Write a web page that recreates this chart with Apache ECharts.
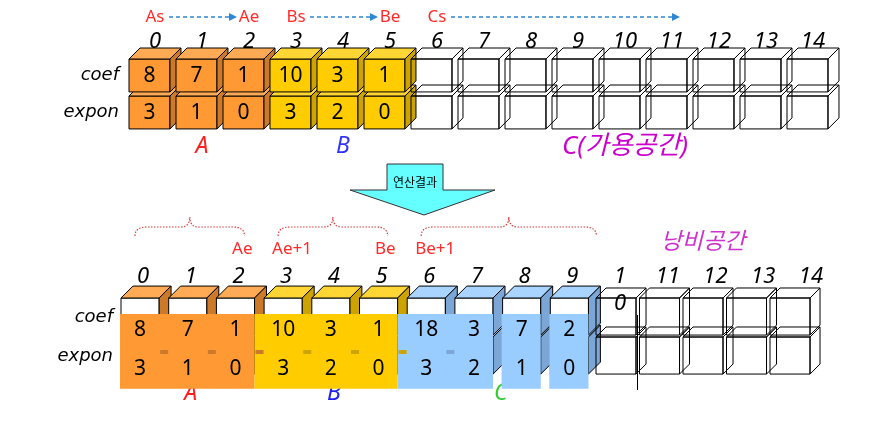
<!DOCTYPE html>
<html>
<head>
<meta charset="utf-8">
<script src="https://cdn.jsdelivr.net/npm/echarts@6/dist/echarts.min.js"></script>
<style>
html, body { margin: 0; padding: 0; background: #fff; }
#main { width: 872px; height: 432px; }
</style>
</head>
<body>
<div id="main"></div>
<script>
// ---- data ----
var indexLabels = ['0','1','2','3','4','5','6','7','8','9','10','11','12','13','14'];
var resIndexLabels = ['0','1','2','3','4','5','6','7','8','9','1\n0','11','12','13','14'];
var rowNames = ['coef', 'expon'];

var topCoef  = [8, 7, 1, 10, 3, 1];
var topExpon = [3, 1, 0, 3, 2, 0];
var topGroup = ['A','A','A','B','B','B'];

var resCoef  = [8, 7, 1, 10, 3, 1, 18, 3, 7, 2];
var resExpon = [3, 1, 0, 3, 2, 0, 3, 2, 1, 0];
var resGroup = ['A','A','A','B','B','B','C','C','C','C'];

var wasteCells = [10, 11, 12, 13, 14];

var pointerNames = ['As', 'Ae', 'Bs', 'Be', 'Cs'];
var pointerCells = [0, 2, 3, 5, 6];
var pointerArrows = [[0, 2], [3, 5], [6, 11]];

var topGroupNames = ['A', 'B', 'C(가용공간)'];
var topGroupSpans = [[0, 2], [3, 5], [6, 14]];
var resGroupNames = ['A', 'B', 'C'];
var resGroupSpans = [[0, 2], [3, 5], [6, 9]];

var braceSpans = [[0, 2], [3, 5], [6, 9]];
var braceNames = ['Ae', 'Ae+1', 'Be', 'Be+1'];
var braceCells = [2, 3, 5, 6];
var braceSides = ['right', 'left', 'right', 'left'];

var overlayBoxes = [[0, 2], [3, 5], [6, 7], [8, 8], [9, 9]];
var wasteName = '낭비공간';
var arrowText = '연산결과';

// ---- styles ----
var NONE = 'rgba(0,0,0,0)';
var FACE = {
  A: { front: '#FF9933', top: '#FFAA55', side: '#CC7A2A' },
  B: { front: '#FFCC00', top: '#FFD633', side: '#CCA300' },
  C: { front: '#99CCFF', top: '#A8D4FF', side: '#7BA6D6' },
  E: { front: NONE, top: NONE, side: NONE }
};
var TOP = { w: 0.872, d: 0.234, h: 0.89 };
var RES = { w: 0.80, d: 0.25, h: 0.95 };
var WASTE = { w: 0.92, d: 0.23, h: 0.95 };

var idxFont = 'italic 22px "Noto Sans"';
var valFont = '21px "Noto Sans"';
var rowFont = 'italic 18px "DejaVu Sans"';
var ptrFont = '17px "Noto Sans"';
var grpFont = 'italic 23px "Noto Sans", "Noto Sans CJK KR"';
var grpFontWide = 'italic 26px "Noto Sans", "Noto Sans CJK KR"';
var RED = '#FF2A2A';
var topGroupColor = { 'A': '#FF2020', 'B': '#3333FF', 'C(가용공간)': '#CC00CC' };
var resGroupColor = { 'A': '#FF2020', 'B': '#2222EE', 'C': '#33CC33' };

function txt(text, x, y, font, fill, align, vAlign, extra) {
  var st = { text: String(text), x: x, y: y, font: font, fill: fill,
    align: align || 'center', verticalAlign: vAlign || 'middle',
    textAlign: align || 'center', textVerticalAlign: vAlign || 'middle' };
  if (extra) for (var k in extra) st[k] = extra[k];
  return { type: 'text', style: st };
}

function cube(x, y, w, h, d, c) {
  return [
    { type: 'rect', shape: { x: x, y: y, width: w, height: h },
      style: { fill: c.front, stroke: '#000', lineWidth: 1 } },
    { type: 'polygon', shape: { points: [[x, y], [x + d, y - d], [x + w + d, y - d], [x + w, y]] },
      style: { fill: c.top, stroke: '#000', lineWidth: 1 } },
    { type: 'polygon', shape: { points: [[x + w, y], [x + w + d, y - d], [x + w + d, y + h - d], [x + w, y + h]] },
      style: { fill: c.side, stroke: '#000', lineWidth: 1 } }
  ];
}

function geo(api, cell, row, k) {
  var p = api.coord([cell, row]);
  var s = api.size([1, 1]);
  return { x: p[0], y: p[1], px: s[0], py: s[1], w: s[0] * k.w, d: s[0] * k.d, h: s[1] * k.h };
}

// ---- built series data ----
var topCubes = [];
[1, 0].forEach(function (r) {
  indexLabels.forEach(function (l, i) { topCubes.push([i, r]); });
});
var resCubes = [];
[1, 0].forEach(function (r) {
  resCoef.forEach(function (v, i) { resCubes.push([i, r]); });
});
var wasteData = [];
[1, 0].forEach(function (r) {
  wasteCells.forEach(function (c) { wasteData.push([c, r]); });
});
var resNums = [];
[0, 1].forEach(function (r) {
  resCoef.forEach(function (v, i) { resNums.push([i, r]); });
});
// dashes where the next cell sits under the same continuous overlay
var dashCells = [];
overlayBoxes.forEach(function (b, k) {
  for (var i = b[0]; i <= b[1]; i++) {
    var nb = overlayBoxes[k + 1];
    if (i < b[1] || (nb && nb[0] === i + 1 && resGroup[nb[0]] !== resGroup[b[1]])) dashCells.push([i, 1]);
  }
});

var chart = echarts.init(document.getElementById('main'));

chart.setOption({
  backgroundColor: '#fff',
  animation: false,
  grid: [
    { left: 129, top: 59, width: 705, height: 74, containLabel: false },
    { left: 121, top: 298, width: 715.5, height: 78, containLabel: false },
    { left: 596, top: 298, width: 217.5, height: 78, containLabel: false }
  ],
  xAxis: [
    { gridIndex: 0, type: 'value', min: 0, max: 15, show: false },
    { gridIndex: 1, type: 'value', min: 0, max: 15, show: false },
    { gridIndex: 2, type: 'value', min: 10, max: 15, show: false }
  ],
  yAxis: [
    { gridIndex: 0, type: 'value', min: 0, max: 2, inverse: true, show: false },
    { gridIndex: 1, type: 'value', min: 0, max: 2, inverse: true, show: false },
    { gridIndex: 2, type: 'value', min: 0, max: 2, inverse: true, show: false }
  ],
  graphic: [
    { type: 'polygon', z: 10,
      shape: { points: [[387, 164], [443, 164], [443, 190], [495, 190], [424, 215], [350, 190], [387, 190]] },
      style: { fill: '#66FFFF', stroke: '#333', lineWidth: 1 } },
    { type: 'text', z: 11,
      style: { text: arrowText, x: 415, y: 182, font: '12px "Noto Sans CJK KR"', fill: '#000',
        align: 'center', verticalAlign: 'middle', textAlign: 'center', textVerticalAlign: 'middle' } },
    { type: 'line', z: 50, shape: { x1: 637.5, y1: 315, x2: 637.5, y2: 390 },
      style: { stroke: '#000', lineWidth: 1 } }
  ],
  series: [
    // top cubes
    { type: 'custom', xAxisIndex: 0, yAxisIndex: 0, data: topCubes,
      renderItem: function (params, api) {
        var i = api.value(0), r = api.value(1);
        var g = geo(api, i, r, TOP);
        var filled = i < topCoef.length;
        var kids = cube(g.x, g.y, g.w, g.h, g.d, filled ? FACE[topGroup[i]] : FACE.E);
        if (filled) kids.push(txt(r === 0 ? topCoef[i] : topExpon[i], g.x + g.w / 2, g.y + g.h / 2 + 1, valFont, '#000'));
        return { type: 'group', children: kids };
      } },
    // top index labels
    { type: 'custom', xAxisIndex: 0, yAxisIndex: 0,
      data: indexLabels.map(function (l, i) { return [i, 0]; }),
      renderItem: function (params, api) {
        var g = geo(api, api.value(0), 0, TOP);
        return txt(indexLabels[params.dataIndex], g.x + (g.w + g.d) / 2, g.y - g.d - 6, idxFont, '#000');
      } },
    // top row names
    { type: 'custom', xAxisIndex: 0, yAxisIndex: 0,
      data: rowNames.map(function (n, r) { return [0, r]; }),
      renderItem: function (params, api) {
        var g = geo(api, 0, api.value(1), TOP);
        return txt(rowNames[params.dataIndex], g.x - 10, g.y + g.h / 2, rowFont, '#000', 'right');
      } },
    // pointer names
    { type: 'custom', xAxisIndex: 0, yAxisIndex: 0,
      data: pointerCells.map(function (c) { return [c, 0]; }),
      renderItem: function (params, api) {
        var g = geo(api, api.value(0), 0, TOP);
        return txt(pointerNames[params.dataIndex], g.x + (g.w + g.d) / 2, g.y - 42, ptrFont, RED);
      } },
    // pointer arrows
    { type: 'custom', xAxisIndex: 0, yAxisIndex: 0,
      data: pointerArrows.map(function (a) { return [a[0], 0, a[1]]; }),
      renderItem: function (params, api) {
        var a = geo(api, api.value(0), 0, TOP), b = geo(api, api.value(2), 0, TOP);
        var x1 = a.x + (a.w + a.d) / 2 + 14;
        var hasLabel = pointerCells.indexOf(api.value(2)) >= 0;
        var x2 = b.x + (b.w + b.d) / 2 + (hasLabel ? -12 : 8);
        var y = a.y - 42;
        return { type: 'group', children: [
          { type: 'line', shape: { x1: x1, y1: y, x2: x2 - 6, y2: y },
            style: { stroke: '#2E86D4', lineWidth: 1.5, lineDash: [4, 3] } },
          { type: 'polygon', shape: { points: [[x2, y], [x2 - 8, y - 4], [x2 - 8, y + 4]] },
            style: { fill: '#2E86D4' } }
        ] };
      } },
    // top group names
    { type: 'custom', xAxisIndex: 0, yAxisIndex: 0,
      data: topGroupSpans.map(function (s) { return [(s[0] + s[1]) / 2, 1]; }),
      renderItem: function (params, api) {
        var g = geo(api, api.value(0), 1, TOP);
        var name = topGroupNames[params.dataIndex];
        var f = name.length > 1 ? grpFontWide : grpFont;
        return txt(name, g.x + (g.w + g.d) / 2, g.y + g.h + 18, f, topGroupColor[name]);
      } },

    // result cubes
    { type: 'custom', xAxisIndex: 1, yAxisIndex: 1, data: resCubes,
      renderItem: function (params, api) {
        var i = api.value(0), r = api.value(1);
        var g = geo(api, i, r, RES);
        var f = FACE[resGroup[i]];
        return { type: 'group', children: cube(g.x, g.y, g.w, g.h, g.d, { front: '#fff', top: f.top, side: f.side }) };
      } },
    // waste cubes
    { type: 'custom', xAxisIndex: 2, yAxisIndex: 2, data: wasteData,
      renderItem: function (params, api) {
        var g = geo(api, api.value(0), api.value(1), WASTE);
        return { type: 'group', children: cube(g.x, g.y, g.w, g.h, g.d, FACE.E) };
      } },
    // result index labels
    { type: 'custom', xAxisIndex: 1, yAxisIndex: 1,
      data: resIndexLabels.map(function (l, i) { return [i, 0]; }),
      renderItem: function (params, api) {
        var g = geo(api, api.value(0), 0, RES);
        return txt(resIndexLabels[params.dataIndex], g.x + g.w / 2 + 3, g.y - g.d - 23, idxFont, '#000', 'center', 'top', { lineHeight: 27 });
      } },
    // result row names
    { type: 'custom', xAxisIndex: 1, yAxisIndex: 1,
      data: rowNames.map(function (n, r) { return [0, r]; }),
      renderItem: function (params, api) {
        var g = geo(api, 0, api.value(1), RES);
        return txt(rowNames[params.dataIndex], g.x - 8, g.y + g.h / 2 + 1, rowFont, '#000', 'right');
      } },
    // braces
    { type: 'custom', xAxisIndex: 1, yAxisIndex: 1,
      data: braceSpans.map(function (s) { return [s[0], 0, s[1]]; }),
      renderItem: function (params, api) {
        var a = geo(api, api.value(0), 0, RES), b = geo(api, api.value(2), 0, RES);
        var x1 = a.x + 14, x2 = b.x + b.w + (params.dataIndex === braceSpans.length - 1 ? 8 : -10);
        var xm = (x1 + x2) / 2;
        var yb = a.y - 62, ym = a.y - 71, yp = a.y - 81;
        var d = 'M' + x1 + ' ' + yb + ' Q' + x1 + ' ' + ym + ' ' + (x1 + 12) + ' ' + ym +
          ' L' + (xm - 9) + ' ' + ym + ' Q' + xm + ' ' + ym + ' ' + xm + ' ' + yp +
          ' Q' + xm + ' ' + ym + ' ' + (xm + 9) + ' ' + ym +
          ' L' + (x2 - 12) + ' ' + ym + ' Q' + x2 + ' ' + ym + ' ' + x2 + ' ' + yb;
        return { type: 'path', shape: { pathData: d },
          style: { fill: NONE, stroke: '#E03A3A', lineWidth: 1.2, lineDash: [1.5, 1.5] } };
      } },
    // brace labels
    { type: 'custom', xAxisIndex: 1, yAxisIndex: 1,
      data: braceCells.map(function (c) { return [c, 0]; }),
      renderItem: function (params, api) {
        var g = geo(api, api.value(0), 0, RES);
        var side = braceSides[params.dataIndex];
        var x = side === 'right' ? g.x + g.w - 2 : g.x + 8;
        return txt(braceNames[params.dataIndex], x, g.y - 49, ptrFont, RED, side === 'right' ? 'right' : 'left');
      } },
    // waste label
    { type: 'custom', xAxisIndex: 2, yAxisIndex: 2,
      data: [[(wasteCells[0] + wasteCells[wasteCells.length - 1]) / 2, 0]],
      renderItem: function (params, api) {
        var g = geo(api, api.value(0), 0, WASTE);
        return txt(wasteName, g.x + g.w / 2, g.y - 58, 'italic 23px "Noto Sans CJK KR"', '#CC33CC');
      } },
    // result group names (mostly hidden by the overlay)
    { type: 'custom', xAxisIndex: 1, yAxisIndex: 1,
      data: resGroupSpans.map(function (s) { return [(s[0] + s[1]) / 2, 1]; }),
      renderItem: function (params, api) {
        var g = geo(api, api.value(0), 1, RES);
        var name = resGroupNames[params.dataIndex];
        return txt(name, g.x + g.w / 2 + 3, g.y + g.h + 19, grpFont, resGroupColor[name]);
      } },
    // overlay boxes
    { type: 'custom', xAxisIndex: 1, yAxisIndex: 1,
      data: overlayBoxes.map(function (b) { return [b[0], 0, b[1]]; }),
      renderItem: function (params, api) {
        var from = api.value(0), to = api.value(2);
        var a = geo(api, from, 0, RES), b = geo(api, to, 0, RES);
        var prev = overlayBoxes[params.dataIndex - 1];
        var left = a.x - 1;
        if (prev && prev[1] === from - 1 && resGroup[prev[1]] !== resGroup[from]) {
          left = geo(api, from - 1, 0, RES).x + a.w;
        }
        var top = a.y + a.py * 0.41, bottom = a.y + a.py * 2.33;
        return { type: 'rect', shape: { x: left, y: top, width: b.x + b.w - left, height: bottom - top },
          style: { fill: FACE[resGroup[from]].front } };
      } },
    // small dashes showing through
    { type: 'custom', xAxisIndex: 1, yAxisIndex: 1, data: dashCells,
      renderItem: function (params, api) {
        var i = api.value(0);
        var g = geo(api, i, 1, RES);
        return { type: 'rect', shape: { x: g.x + g.w + 1, y: g.y + 13, width: 8, height: 4 },
          style: { fill: FACE[resGroup[i]].side } };
      } },
    // overlay numbers
    { type: 'custom', xAxisIndex: 1, yAxisIndex: 1, data: resNums,
      renderItem: function (params, api) {
        var i = api.value(0), r = api.value(1);
        var g = geo(api, i, r, RES);
        return txt(r === 0 ? resCoef[i] : resExpon[i], g.x + g.w / 2, g.y + g.py * 0.83, valFont, '#000');
      } }
  ]
});
</script>
</body>
</html>
